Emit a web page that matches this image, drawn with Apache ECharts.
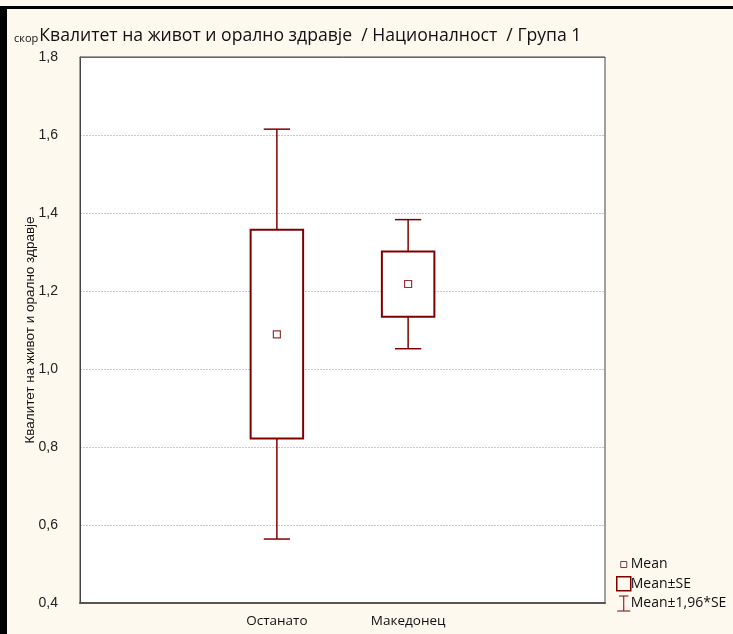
<!DOCTYPE html>
<html>
<head>
<meta charset="utf-8">
<script src="https://cdn.jsdelivr.net/npm/echarts@6/dist/echarts.min.js"></script>
<style>
html,body{margin:0;padding:0;background:#ffffff;}
#chart{width:733px;height:634px;}
</style>
</head>
<body>
<div id="chart"></div>
<script>
// ---- data ----
var categories = ['Останато', 'Македонец'];
var means = [1.089, 1.218];
var seLow = [0.822, 1.134];
var seHigh = [1.357, 1.301];
var ciLow = [0.564, 1.052];
var ciHigh = [1.615, 1.383];
var yTicks = [0.4, 0.6, 0.8, 1.0, 1.2, 1.4, 1.6, 1.8];
var titleSmall = 'скор';
var titleMain = 'Квалитет на живот и орално здравје  / Националност  / Група 1';
var yName = 'Квалитет на живот и орално здравје';
var legendNames = ['Mean', 'Mean±SE', 'Mean±1,96*SE'];

// padded category axis: empty slot on each side
var axisCats = [''].concat(categories).concat(['']);
var RED = '#800000';

var boxData = categories.map(function (c, i) { return [i + 1, seLow[i], seHigh[i]]; });
var ciData = categories.map(function (c, i) { return [i + 1, ciLow[i], ciHigh[i], seLow[i], seHigh[i]]; });
var meanData = categories.map(function (c, i) { return [i + 1, means[i]]; });

var chart = echarts.init(document.getElementById('chart'), null, {renderer: 'canvas'});

var option = {
  backgroundColor: '#fef9ef',
  animation: false,
  title: {
    left: 9, top: 22,
    text: '{a|' + titleSmall + '}{b|' + titleMain + '}',
    textStyle: {
      fontWeight: 'normal',
      rich: {
        a: {fontFamily: 'Open Sans', fontSize: 11, fontWeight: 'normal', color: '#111', verticalAlign: 'bottom', padding: [0, 1, 1, 0]},
        b: {fontFamily: 'Open Sans', fontSize: 17.6, fontWeight: 'normal', color: '#111', verticalAlign: 'bottom'}
      }
    }
  },
  graphic: [
    {type: 'rect', left: 0, top: 6, shape: {width: 733, height: 3}, style: {fill: '#000'}, silent: true},
    {type: 'rect', left: 0, top: 6, shape: {width: 7, height: 628}, style: {fill: '#000'}, silent: true}
  ],
  legend: {
    orient: 'vertical',
    left: 611, top: 552,
    itemWidth: 14, itemHeight: 15,
    itemGap: 4,
    textStyle: {fontFamily: 'Open Sans', fontSize: 14, color: '#111', padding: [0, 0, 0, -5]},
    data: [
      {name: legendNames[0], icon: 'path://M0,0M14,14M4,4h6v6h-6z', itemStyle: {color: '#fff', borderColor: RED, borderWidth: 1}},
      {name: legendNames[1], icon: 'path://M0,0h14v14h-14z', itemStyle: {color: 'transparent', borderColor: RED, borderWidth: 1.5}},
      {name: legendNames[2], icon: 'path://M2,0h10M7,0v16M0,16h14', itemStyle: {color: 'transparent', borderColor: RED, borderWidth: 1}}
    ]
  },
  grid: {
    left: 80, top: 57, right: 128, bottom: 31,
    show: true, backgroundColor: '#ffffff', borderColor: '#444', borderWidth: 1
  },
  xAxis: [
    {
      type: 'category', data: axisCats, position: 'bottom', boundaryGap: true,
      axisLine: {lineStyle: {color: '#555', width: 2}},
      axisTick: {inside: true, alignWithLabel: true, length: 4, lineStyle: {color: '#333'}},
      axisLabel: {fontFamily: 'Open Sans', fontSize: 13.5, color: '#111', margin: 11},
      splitLine: {show: false}
    },
    {
      type: 'category', data: axisCats, position: 'top', boundaryGap: true,
      axisLine: {lineStyle: {color: '#666', width: 1}},
      axisTick: {inside: true, alignWithLabel: true, length: 4, lineStyle: {color: '#333'}},
      axisLabel: {show: false},
      splitLine: {show: false}
    }
  ],
  yAxis: {
    type: 'value', min: 0.4, max: 1.8, interval: 0.2,
    name: yName, nameLocation: 'middle', nameGap: 43, nameRotate: 90,
    nameMoveOverlap: false,
    nameTextStyle: {fontFamily: 'Liberation Sans', fontSize: 13.5, color: '#111'},
    axisLine: {show: true, lineStyle: {color: '#444', width: 1}},
    axisTick: {show: false},
    axisLabel: {
      fontFamily: 'Liberation Sans', fontSize: 14, color: '#222', margin: 22,
      formatter: function (v) { return v.toFixed(1).replace('.', ','); }
    },
    splitLine: {show: true, lineStyle: {color: '#c8c8c8', type: [2, 1], width: 1}}
  },
  series: [
    {
      name: legendNames[2], type: 'custom', z: 2,
      itemStyle: {color: RED},
      data: ciData,
      renderItem: function (params, api) {
        var x = api.value(0);
        var lo = api.coord([x, api.value(1)]);
        var hi = api.coord([x, api.value(2)]);
        var bl = api.coord([x, api.value(3)]);
        var bh = api.coord([x, api.value(4)]);
        var band = api.size([1, 0])[0];
        var cap = band * 0.1;
        var st = {stroke: RED, lineWidth: 1.5, fill: null};
        return {
          type: 'group',
          children: [
            {type: 'line', shape: {x1: hi[0], y1: hi[1], x2: bh[0], y2: bh[1]}, style: st},
            {type: 'line', shape: {x1: lo[0], y1: lo[1], x2: bl[0], y2: bl[1]}, style: st},
            {type: 'line', shape: {x1: hi[0] - cap, y1: hi[1], x2: hi[0] + cap, y2: hi[1]}, style: st},
            {type: 'line', shape: {x1: lo[0] - cap, y1: lo[1], x2: lo[0] + cap, y2: lo[1]}, style: st}
          ]
        };
      }
    },
    {
      name: legendNames[1], type: 'custom', z: 3,
      itemStyle: {color: RED},
      data: boxData,
      renderItem: function (params, api) {
        var x = api.value(0);
        var lo = api.coord([x, api.value(1)]);
        var hi = api.coord([x, api.value(2)]);
        var band = api.size([1, 0])[0];
        var w = band * 0.4;
        return {
          type: 'rect',
          shape: {x: hi[0] - w / 2, y: hi[1], width: w, height: lo[1] - hi[1]},
          style: {stroke: RED, lineWidth: 2, fill: '#fff'}
        };
      }
    },
    {
      name: legendNames[0], type: 'scatter', z: 4,
      symbol: 'rect', symbolSize: 7,
      itemStyle: {color: '#fff', borderColor: RED, borderWidth: 1.2},
      data: meanData
    }
  ]
};
chart.setOption(option);
</script>
</body>
</html>
